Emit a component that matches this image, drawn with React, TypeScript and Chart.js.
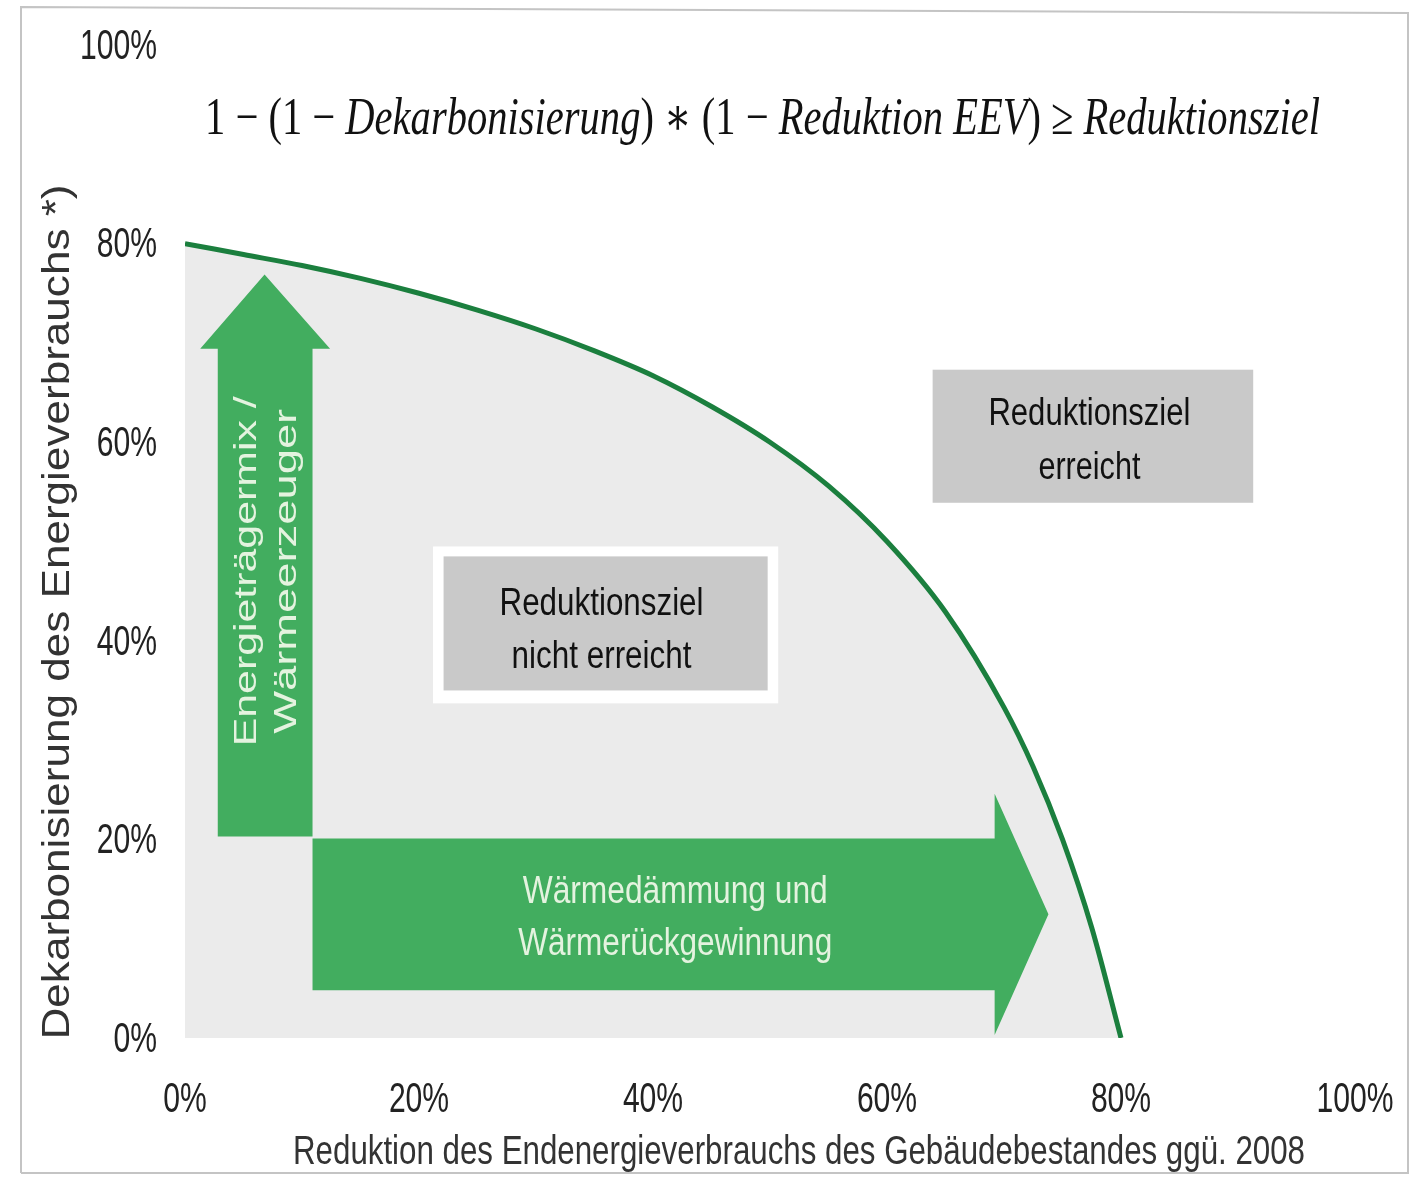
import { useEffect, useRef } from 'react';
import { Chart, registerables } from 'chart.js';

Chart.register(...registerables);

// ---- data ----
const reductionEEV = [0, 5, 10, 15, 20, 25, 30, 35, 40, 45, 50, 55, 60, 65, 70, 72.5, 75, 77.5, 80];
const decarbonisation = [80, 78.9, 77.8, 76.5, 75, 73.3, 71.4, 69.2, 66.7, 63.6, 60, 55.6, 50, 42.9, 33.3, 27.3, 20, 11.1, 0];
const tickValues = [0, 20, 40, 60, 80, 100];
const xAxisTitle = 'Reduktion des Endenergieverbrauchs des Gebäudebestandes ggü. 2008';
const yAxisTitle = 'Dekarbonisierung des Energieverbrauchs *)';
const formulaParts: [string, boolean][] = [
  ['1 − (1 − ', false],
  ['Dekarbonisierung', true],
  [') ∗ (1 − ', false],
  ['Reduktion EEV', true],
  [') ≥ ', false],
  ['Reduktionsziel', true],
];
const verticalArrowLines = ['Energieträgermix /', 'Wärmeerzeuger'];
const horizontalArrowLines = ['Wärmedämmung und', 'Wärmerückgewinnung'];
const reachedLines = ['Reduktionsziel', 'erreicht'];
const notReachedLines = ['Reduktionsziel', 'nicht erreicht'];

const SANS = "'Liberation Sans', Arial, sans-serif";
const CONDENSE = 0.7;

function fitText(ctx: CanvasRenderingContext2D, text: string, cx: number, cy: number, width: number, font: string) {
  ctx.save();
  ctx.font = font;
  ctx.textAlign = 'center';
  ctx.textBaseline = 'middle';
  const w = ctx.measureText(text).width;
  ctx.translate(cx, cy);
  ctx.scale(width / w, 1);
  ctx.fillText(text, 0, 0);
  ctx.restore();
}

function condensedText(ctx: CanvasRenderingContext2D, text: string, x: number, y: number, align: CanvasTextAlign, font: string) {
  ctx.save();
  ctx.font = font;
  ctx.textAlign = align;
  ctx.textBaseline = 'middle';
  ctx.translate(x, y);
  ctx.scale(CONDENSE, 1);
  ctx.fillText(text, 0, 0);
  ctx.restore();
}

const overlay = {
  id: 'overlay',
  beforeDraw(chart: any) {
    const { ctx } = chart;
    ctx.save();
    ctx.fillStyle = '#ffffff';
    ctx.fillRect(0, 0, chart.width, chart.height);
    ctx.restore();
  },
  afterDatasetsDraw(chart: any) {
    const { ctx } = chart;
    const { x, y } = chart.scales;
    const px = (v: number) => x.getPixelForValue(v);
    const py = (v: number) => y.getPixelForValue(v);

    const poly = (pts: number[][], color: string) => {
      ctx.beginPath();
      pts.forEach((p, i) => (i ? ctx.lineTo(px(p[0]), py(p[1])) : ctx.moveTo(px(p[0]), py(p[1]))));
      ctx.closePath();
      ctx.fillStyle = color;
      ctx.fill();
    };

    ctx.save();
    const green = '#42ad5f';
    // vertical arrow
    poly([[2.8, 20.3], [10.9, 20.3], [10.9, 69.4], [12.4, 69.4], [6.8, 76.9], [1.3, 69.4], [2.8, 69.4]], green);
    // horizontal arrow
    poly([[10.9, 4.8], [69.2, 4.8], [69.2, 0.3], [73.8, 12.45], [69.2, 24.6], [69.2, 20.1], [10.9, 20.1]], green);

    // arrow texts
    ctx.fillStyle = '#e4f3df';
    ctx.save();
    ctx.translate(px(7.0), py(47));
    ctx.rotate(-Math.PI / 2);
    fitText(ctx, verticalArrowLines[0], 0, -20, 350, `32px ${SANS}`);
    fitText(ctx, verticalArrowLines[1], 0, 20, 325, `32px ${SANS}`);
    ctx.restore();
    fitText(ctx, horizontalArrowLines[0], px(41.9), py(14.7), 305, `38px ${SANS}`);
    fitText(ctx, horizontalArrowLines[1], px(41.9), py(9.4), 314, `38px ${SANS}`);

    // boxes
    const box = (x0: number, x1: number, y0: number, y1: number, color: string) => {
      ctx.fillStyle = color;
      ctx.fillRect(px(x0), py(y0), px(x1) - px(x0), py(y1) - py(y0));
    };
    box(21.2, 50.7, 49.5, 33.7, '#ffffff');
    box(22.1, 49.8, 48.5, 35.0, '#c9c9c9');
    box(63.9, 91.3, 67.3, 53.9, '#c9c9c9');
    ctx.fillStyle = '#111111';
    fitText(ctx, reachedLines[0], px(77.3), py(62.8), 202, `38px ${SANS}`);
    fitText(ctx, reachedLines[1], px(77.3), py(57.3), 102, `38px ${SANS}`);
    fitText(ctx, notReachedLines[0], px(35.6), py(43.7), 204, `38px ${SANS}`);
    fitText(ctx, notReachedLines[1], px(35.6), py(38.3), 180, `38px ${SANS}`);
    ctx.restore();
  },
  afterDraw(chart: any) {
    const { ctx } = chart;
    const { x, y } = chart.scales;

    // tick labels from the library's scales (condensed like the scan)
    ctx.save();
    ctx.fillStyle = '#222222';
    x.ticks.forEach((t: any) => {
      condensedText(ctx, `${t.value}%`, x.getPixelForValue(t.value), y.bottom + 62, 'center', `43px ${SANS}`);
    });
    y.ticks.forEach((t: any) => {
      condensedText(ctx, `${t.value}%`, x.left - 28, y.getPixelForValue(t.value) + 2, 'right', `43px ${SANS}`);
    });
    ctx.restore();

    // formula
    ctx.save();
    const size = 52;
    let total = 0;
    formulaParts.forEach(([t, it]) => {
      ctx.font = `${it ? 'italic ' : ''}${size}px 'Liberation Serif', 'DejaVu Serif', serif`;
      total += ctx.measureText(t).width;
    });
    const k = 1115 / total;
    ctx.translate(205, 120);
    ctx.scale(k, 1);
    ctx.fillStyle = '#111111';
    ctx.textBaseline = 'middle';
    ctx.textAlign = 'left';
    let cx = 0;
    formulaParts.forEach(([t, it]) => {
      ctx.font = `${it ? 'italic ' : ''}${size}px 'Liberation Serif', 'DejaVu Serif', serif`;
      ctx.fillText(t, cx, 0);
      cx += ctx.measureText(t).width;
    });
    ctx.restore();

    // axis titles
    ctx.save();
    ctx.fillStyle = '#333333';
    fitText(ctx, xAxisTitle, 799, 1153, 1012, `40px ${SANS}`);
    ctx.translate(59, 612);
    ctx.rotate(-Math.PI / 2);
    fitText(ctx, yAxisTitle, 0, 0, 855, `38px ${SANS}`);
    ctx.restore();

    // scan frame
    ctx.save();
    ctx.strokeStyle = '#c4c4c4';
    ctx.lineWidth = 2;
    ctx.beginPath();
    ctx.moveTo(21, 1173);
    ctx.lineTo(21, 7);
    ctx.lineTo(1408, 13);
    ctx.lineTo(1408, 1173);
    ctx.lineTo(21, 1173);
    ctx.stroke();
    ctx.restore();
  },
};

export default function App() {
  const ref = useRef<HTMLCanvasElement | null>(null);
  useEffect(() => {
    if (!ref.current) return;
    const chart = new Chart(ref.current, {
      type: 'line',
      data: {
        datasets: [
          {
            data: reductionEEV.map((v, i) => ({ x: v, y: decarbonisation[i] })),
            borderColor: '#1b7f3e',
            borderWidth: 5,
            backgroundColor: '#ebebeb',
            fill: 'origin',
            pointRadius: 0,
            cubicInterpolationMode: 'monotone',
          },
        ],
      },
      options: {
        responsive: false,
        animation: false,
        layout: { padding: { left: 0, right: 62, top: 45, bottom: 0 } },
        plugins: { legend: { display: false }, tooltip: { enabled: false }, title: { display: false } },
        scales: {
          x: {
            type: 'linear',
            min: 0,
            max: 100,
            afterFit: (s: any) => { s.height = 139; s.paddingLeft = 0; s.paddingRight = 0; },
            afterBuildTicks: (s: any) => { s.ticks = tickValues.map((v) => ({ value: v })); },
            grid: { display: false, drawTicks: false },
            border: { display: false },
            ticks: { display: false, callback: (v: any) => `${v}%` },
          },
          y: {
            min: 0,
            max: 100,
            afterFit: (s: any) => { s.width = 185; s.paddingTop = 0; s.paddingBottom = 0; },
            afterBuildTicks: (s: any) => { s.ticks = tickValues.map((v) => ({ value: v })); },
            grid: { display: false, drawTicks: false },
            border: { display: false },
            ticks: { display: false, callback: (v: any) => `${v}%` },
          },
        },
      },
      plugins: [overlay],
    });
    return () => chart.destroy();
  }, []);
  return (
    <div style={{ position: 'absolute', left: 0, top: 0, width: 1417, height: 1177 }}>
      <canvas ref={ref} width={1417} height={1177} />
    </div>
  );
}
